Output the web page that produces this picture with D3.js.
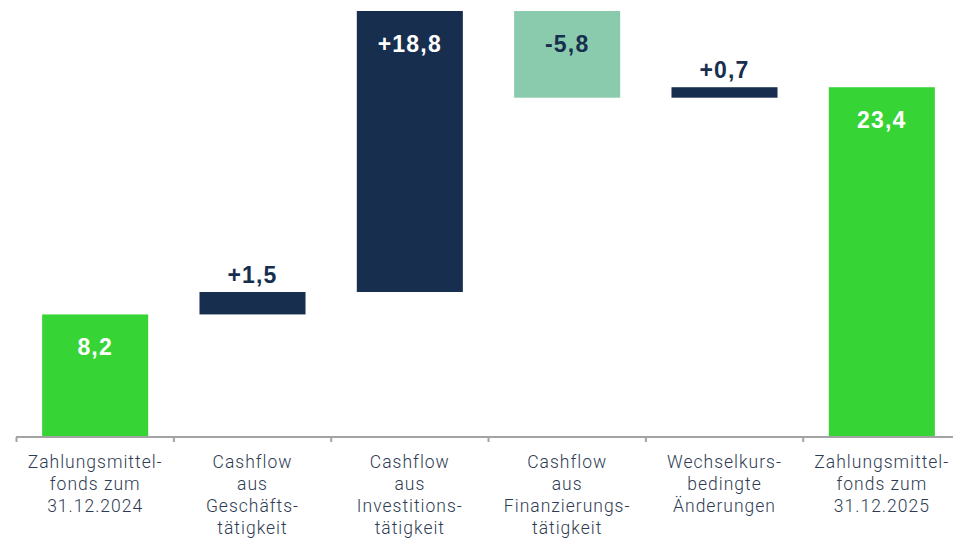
<!DOCTYPE html>
<html lang="de">
<head>
    <meta charset="UTF-8">
    <title>Zahlungsmittelfonds</title>
    <script src="https://d3js.org/d3.v7.min.js"></script>
    <style>
        body { margin: 0; background: #fff; }
        svg { display: block; overflow: hidden; }
        .cat text {
            font-family: Roboto, 'Liberation Sans', Arial, sans-serif;
            font-weight: 300;
            font-size: 17.5px;
            letter-spacing: 1px;
            fill: #2e3b52;
        }
        .val {
            font-family: 'Liberation Sans', Arial, sans-serif;
            font-size: 23px;
            font-weight: bold;
            letter-spacing: 1.2px;
        }
    </style>
</head>
<body>
<script>

    const width  = 953;
    const height = 539;
    const baseY  = 437;

    // categories, line breaks as "|"
    const categories = [
        'Zahlungsmittel-|fonds zum|31.12.2024',
        'Cashflow|aus|Geschäfts-|tätigkeit',
        'Cashflow|aus|Investitions-|tätigkeit',
        'Cashflow|aus|Finanzierungs-|tätigkeit',
        'Wechselkurs-|bedingte|Änderungen',
        'Zahlungsmittel-|fonds zum|31.12.2025'
    ];
    const values = [8.2, 1.5, 18.8, -5.8, 0.7, 23.4];
    const kinds  = ['total', 'delta', 'delta', 'delta', 'delta', 'total'];
    const valueLabels = ['8,2', '+1,5', '+18,8', '-5,8', '+0,7', '23,4'];

    // running totals for the waterfall
    let run = 0;
    const bars = values.map((v, i) => {
        let y0, y1;
        if (kinds[i] === 'total') { y0 = 0; y1 = v; run = v; }
        else { y0 = run; y1 = run + v; run = y1; }
        return {cat: categories[i], v, kind: kinds[i], label: valueLabels[i],
                lo: Math.min(y0, y1), hi: Math.max(y0, y1)};
    });

    const x = d3.scaleBand()
            .domain(categories)
            .range([16.5, 960.5])
            .paddingInner(0.326)
            .paddingOuter(0.163);

    const y = d3.scaleLinear()
            .domain([0, 28.5])
            .range([baseY, 11]);

    const color = d => d.kind === 'total' ? '#36d434'
                     : d.v < 0 ? '#8acbae' : '#172e4e';

    const svg = d3.select("body")
            .append("svg")
            .attr("width", width)
            .attr("height", height);

    svg.selectAll(".bar")
            .data(bars)
            .enter()
            .append("rect").attr("class", "bar")
            .attr("x", d => x(d.cat))
            .attr("width", x.bandwidth())
            .attr("y", d => y(d.hi))
            .attr("height", d => y(d.lo) - y(d.hi))
            .style("fill", color);

    // value labels: inside for tall bars, above for thin ones
    svg.selectAll(".val")
            .data(bars)
            .enter()
            .append("text").attr("class", "val")
            .attr("text-anchor", "middle")
            .attr("x", d => x(d.cat) + x.bandwidth() / 2)
            .attr("y", d => (y(d.lo) - y(d.hi)) > 60 ? y(d.hi) + 41 : y(d.hi) - 9)
            .style("fill", d => (y(d.lo) - y(d.hi)) > 60 && d.v >= 0 ? '#fff' : '#172e4e')
            .text(d => d.label);

    // axis with labels under each bar
    const axis = svg.append("g").attr("class", "cat")
            .attr("transform", "translate(0," + baseY + ")")
            .call(d3.axisBottom(x).tickSize(0).tickPadding(0));

    axis.select(".domain").remove();
    axis.selectAll("text").remove();

    axis.selectAll(".tick").each(function(d) {
        const t = d3.select(this).append("text")
                .attr("text-anchor", "middle")
                .attr("y", 31);
        d.split("|").forEach((line, i) => {
            t.append("tspan").attr("x", 0).attr("dy", i ? 22 : 0).text(line);
        });
    });

    axis.append("line")
            .attr("x1", 16).attr("x2", width)
            .attr("stroke", "#a3a3a3").attr("stroke-width", 2);

    // boundary ticks between categories
    axis.selectAll(".sep")
            .data(categories)
            .enter()
            .append("line").attr("class", "sep")
            .attr("x1", d => x(d) - x.step() * x.paddingOuter())
            .attr("x2", d => x(d) - x.step() * x.paddingOuter())
            .attr("y1", 0).attr("y2", 5)
            .attr("stroke", "#a3a3a3").attr("stroke-width", 2);

</script>
</body>
</html>
